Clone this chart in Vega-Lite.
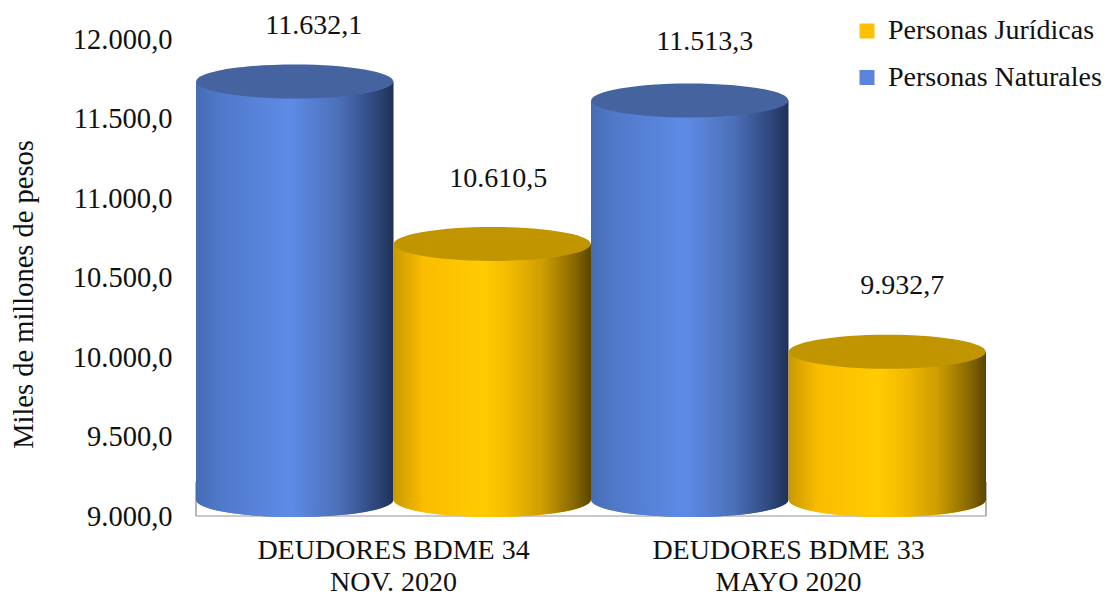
{
"$schema":"https://vega.github.io/schema/vega-lite/v6.json",
"width":790,"height":477,
"autosize":{"type":"none"},
"padding":{"left":196,"top":39,"right":121,"bottom":78},
"background":"white",
"config":{"view":{"stroke":null},"font":"Liberation Serif","locale":{"number":{"decimal":",","thousands":".","grouping":[3],"currency":["$",""]}}},
"data":{"values":[
{"grupo":"DEUDORES BDME 34|NOV. 2020","serie":"Personas Naturales","valor":11632.1,"base":9000},
{"grupo":"DEUDORES BDME 34|NOV. 2020","serie":"Personas Jurídicas","valor":10610.5,"base":9000},
{"grupo":"DEUDORES BDME 33|MAYO 2020","serie":"Personas Naturales","valor":11513.3,"base":9000},
{"grupo":"DEUDORES BDME 33|MAYO 2020","serie":"Personas Jurídicas","valor":9932.7,"base":9000}
]},
"encoding":{
"x":{"field":"grupo","type":"nominal","sort":null,"scale":{"paddingInner":0,"paddingOuter":0},
"axis":{"title":null,"domain":false,"ticks":false,"labelAngle":0,"labelFontSize":28,"labelColor":"#111","labelPadding":20,"labelLineHeight":32,"labelLimit":500,"labelExpr":"split(datum.label,'|')","labelFont":"Liberation Serif"}},
"xOffset":{"field":"serie","type":"nominal","sort":["Personas Naturales","Personas Jurídicas"],"scale":{"paddingInner":0,"paddingOuter":0}},
"y":{"field":"base","type":"quantitative","scale":{"domain":[9000,12000],"range":[{"expr":"height"},0]},"axis":{"title":"Miles de millones de pesos","titleFontSize":28.5,"titleFontWeight":"normal","titleColor":"#111","titleFont":"Liberation Serif","titlePadding":34,"titleY":255,"domain":false,"ticks":false,"grid":false,"values":[9000,9500,10000,10500,11000,11500,12000],"format":",.1f","labelFontSize":28.5,"labelColor":"#111","labelPadding":24,"labelFont":"Liberation Serif"}}
},
"layer":[
{"mark":{"type":"rule","color":"#C9C9C9","strokeWidth":2},"encoding":{"xOffset":null,"x":null,"y":{"datum":9000,"type":"quantitative"}}},
{"transform":[{"filter":"datum.serie=='Personas Naturales' && indexof(datum.grupo,'34')>=0"}],"mark":{"type":"rule","color":"#B5B5B5","strokeWidth":2},"encoding":{"xOffset":null,"x":{"field":"grupo","type":"nominal","sort":null,"bandPosition":0},"y":{"datum":9000,"type":"quantitative"},"y2":{"datum":9214}}},
{"transform":[{"filter":"datum.serie=='Personas Naturales' && indexof(datum.grupo,'33')>=0"}],"mark":{"type":"rule","color":"#B5B5B5","strokeWidth":2},"encoding":{"xOffset":null,"x":{"field":"grupo","type":"nominal","sort":null,"bandPosition":1},"y":{"datum":9000,"type":"quantitative"},"y2":{"datum":9214}}},
{"mark":{"type":"point","filled":true,"opacity":1,"yOffset":-16,"size":38809,"shape":"M-1,0A1,0.1726,0,1,1,1,0A1,0.1726,0,1,1,-1,0Z"},
"encoding":{
"color":{"field":"serie","type":"nominal","scale":{"domain":["Personas Jurídicas","Personas Naturales"],"range":["#FFC000","#5B85DC"]},"legend":{"title":null,"orient":"none","legendX":657,"legendY":-22,"symbolType":"square","symbolSize":225,"symbolOpacity":1,"labelFontSize":28,"labelColor":"#111","labelFont":"Liberation Serif","labelLimit":300,"rowPadding":18.5,"labelOffset":7}}}},
{"transform":[{"filter":"datum.serie=='Personas Naturales'"}],"mark":{"type":"point","filled":true,"opacity":1,"yOffset":-16,"size":38809,"shape":"M-1,0A1,0.1726,0,1,1,1,0A1,0.1726,0,1,1,-1,0Z","fill":{"x1":0,"x2":1,"y1":0,"y2":0,"gradient":"linear","stops":[{"offset":0,"color":"#466CB4"},{"offset":0.12,"color":"#4F79C9"},{"offset":0.48,"color":"#5E8BE6"},{"offset":0.72,"color":"#4C70BA"},{"offset":0.9,"color":"#30497F"},{"offset":1,"color":"#1F3157"}]}}},
{"transform":[{"filter":"datum.serie=='Personas Jurídicas'"}],"mark":{"type":"point","filled":true,"opacity":1,"yOffset":-16,"size":38809,"shape":"M-1,0A1,0.1726,0,1,1,1,0A1,0.1726,0,1,1,-1,0Z","fill":{"x1":0,"x2":1,"y1":0,"y2":0,"gradient":"linear","stops":[{"offset":0,"color":"#C89A00"},{"offset":0.15,"color":"#FBBC00"},{"offset":0.45,"color":"#FFCC00"},{"offset":0.58,"color":"#F4BC00"},{"offset":0.75,"color":"#CF9E00"},{"offset":0.9,"color":"#8F6E00"},{"offset":1,"color":"#5C4600"}]}}},
{"transform":[{"filter":"datum.serie=='Personas Naturales'"}],"mark":{"type":"bar","yOffset":-16,"y2Offset":-16,"fill":{"x1":0,"x2":1,"y1":0,"y2":0,"gradient":"linear","stops":[{"offset":0,"color":"#466CB4"},{"offset":0.12,"color":"#4F79C9"},{"offset":0.48,"color":"#5E8BE6"},{"offset":0.72,"color":"#4C70BA"},{"offset":0.9,"color":"#30497F"},{"offset":1,"color":"#1F3157"}]}},"encoding":{"y":{"field":"valor","type":"quantitative"},"y2":{"field":"base"}}},
{"transform":[{"filter":"datum.serie=='Personas Jurídicas'"}],"mark":{"type":"bar","yOffset":-16,"y2Offset":-16,"fill":{"x1":0,"x2":1,"y1":0,"y2":0,"gradient":"linear","stops":[{"offset":0,"color":"#C89A00"},{"offset":0.15,"color":"#FBBC00"},{"offset":0.45,"color":"#FFCC00"},{"offset":0.58,"color":"#F4BC00"},{"offset":0.75,"color":"#CF9E00"},{"offset":0.9,"color":"#8F6E00"},{"offset":1,"color":"#5C4600"}]}},"encoding":{"y":{"field":"valor","type":"quantitative"},"y2":{"field":"base"}}},
{"mark":{"type":"point","filled":true,"opacity":1,"yOffset":-16,"size":38809,"shape":"M-1,0A1,0.1726,0,1,1,1,0A1,0.1726,0,1,1,-1,0Z"},
"encoding":{"y":{"field":"valor","type":"quantitative"},"fill":{"condition":{"test":"datum.serie=='Personas Naturales'","value":"#44639F"},"value":"#C19500"}}},
{"transform":[{"filter":"datum.valor==11632.1"}],"mark":{"type":"text","fontSize":28,"color":"#111","dx":19,"dy":-71},"encoding":{"y":{"field":"valor","type":"quantitative"},"text":{"field":"valor","type":"quantitative","format":",.1f"}}},
{"transform":[{"filter":"datum.valor==10610.5"}],"mark":{"type":"text","fontSize":28,"color":"#111","dx":6,"dy":-81},"encoding":{"y":{"field":"valor","type":"quantitative"},"text":{"field":"valor","type":"quantitative","format":",.1f"}}},
{"transform":[{"filter":"datum.valor==11513.3"}],"mark":{"type":"text","fontSize":28,"color":"#111","dx":15,"dy":-74},"encoding":{"y":{"field":"valor","type":"quantitative"},"text":{"field":"valor","type":"quantitative","format":",.1f"}}},
{"transform":[{"filter":"datum.valor==9932.7"}],"mark":{"type":"text","fontSize":28,"color":"#111","dx":15,"dy":-82},"encoding":{"y":{"field":"valor","type":"quantitative"},"text":{"field":"valor","type":"quantitative","format":",.1f"}}}
]
}
